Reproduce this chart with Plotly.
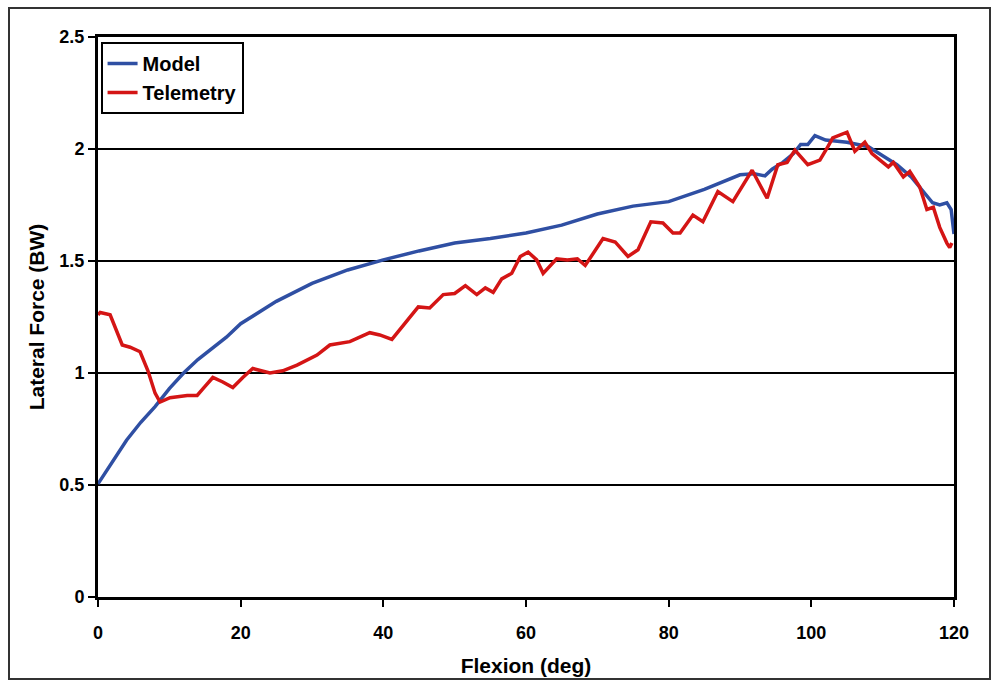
import plotly.graph_objects as go

model_x = [0, 2, 4, 6, 8, 10, 12, 14, 16, 18, 20, 25, 30, 35, 40, 45, 50, 55, 60, 65, 70, 75, 80, 85,
           90, 92, 93.5, 94.5, 96, 97.5, 98.5, 99.5, 100.5, 102, 105, 108, 110, 112, 114, 116, 117, 118,
           119, 119.6, 120]
model_y = [0.505, 0.6, 0.70, 0.78, 0.85, 0.93, 1.0, 1.06, 1.11, 1.16, 1.22, 1.32, 1.40, 1.46, 1.505,
           1.545, 1.58, 1.60, 1.625, 1.66, 1.71, 1.745, 1.765, 1.82, 1.885, 1.89, 1.88, 1.91, 1.94, 1.98,
           2.02, 2.02, 2.06, 2.04, 2.03, 2.01, 1.97, 1.93, 1.875, 1.80, 1.76, 1.75, 1.76, 1.73, 1.62]

tele_x = [0, 0.3, 1.7, 2.4, 3.4, 4.5, 5.9, 7.0, 8.0, 8.7, 10.1, 12.5, 13.9, 15.0, 16.1, 17.5, 18.9,
          20.3, 21.7, 24.1, 25.9, 27.9, 30.7, 32.5, 33.5, 35.3, 38.1, 39.5, 41.2, 42.6, 44.9, 46.5,
          48.4, 50.0, 51.5, 53.1, 54.3, 55.4, 56.6, 58.0, 59.2, 60.3, 61.5, 62.4, 64.3, 65.8, 67.2,
          68.3, 69.4, 70.8, 72.5, 74.3, 75.7, 77.5, 79.2, 80.6, 81.6, 83.4, 84.8, 86.9, 89.0, 91.7,
          93.8, 95.3, 96.6, 97.7, 99.5, 101.2, 102.3, 103.0, 105.0, 106.1, 107.5, 108.5, 110.8, 111.5,
          112.9, 113.8, 115.2, 116.2, 117.1, 118.0, 119.0, 119.4, 119.7]
tele_y = [1.26, 1.27, 1.26, 1.20, 1.125, 1.115, 1.095, 1.01, 0.91, 0.87, 0.89, 0.90, 0.90, 0.94, 0.98,
          0.96, 0.935, 0.98, 1.02, 1.0, 1.01, 1.035, 1.08, 1.125, 1.13, 1.14, 1.18, 1.17, 1.15, 1.205,
          1.295, 1.29, 1.35, 1.355, 1.39, 1.35, 1.38, 1.36, 1.42, 1.445, 1.52, 1.54, 1.505, 1.445, 1.51,
          1.505, 1.51, 1.48, 1.535, 1.60, 1.585, 1.52, 1.55, 1.675, 1.67, 1.625, 1.625, 1.705, 1.675,
          1.81, 1.765, 1.905, 1.78, 1.93, 1.94, 1.995, 1.93, 1.95, 2.01, 2.05, 2.075, 1.99, 2.03, 1.98,
          1.92, 1.94, 1.875, 1.90, 1.83, 1.73, 1.74, 1.65, 1.58, 1.56, 1.58]

x_ticks = [0, 20, 40, 60, 80, 100, 120]
y_ticks = [0, 0.5, 1, 1.5, 2, 2.5]

FONT = "Liberation Sans"

fig = go.Figure()
fig.add_trace(go.Scatter(x=model_x, y=model_y, mode="lines", name="<b>Model</b>",
                         line=dict(color="#2f4fa3", width=3.5)))
fig.add_trace(go.Scatter(x=tele_x, y=tele_y, mode="lines", name="<b>Telemetry</b>",
                         line=dict(color="#d41515", width=3.5)))

fig.update_layout(
    width=997, height=681,
    margin=dict(l=98, r=43, t=37, b=84),
    paper_bgcolor="white", plot_bgcolor="white",
    font=dict(family=FONT, color="black", size=18),
    showlegend=True,
    legend=dict(x=0.003, y=0.991, xanchor="left", yanchor="top",
                bordercolor="black", borderwidth=2, bgcolor="white",
                font=dict(family=FONT, size=20, color="black"),
                tracegroupgap=0, itemwidth=30),
    xaxis=dict(range=[0, 120], tickvals=x_ticks, showgrid=False, zeroline=False,
               showline=True, linecolor="black", linewidth=3, mirror=True,
               ticks="outside", ticklen=7, tickwidth=2, tickcolor="black",
               ticklabelstandoff=10, automargin=False,
               tickfont=dict(family=FONT, size=18, color="black", weight="bold"),
               title=dict(text="<b>Flexion (deg)</b>", font=dict(family=FONT, size=21), standoff=17)),
    yaxis=dict(range=[0, 2.5], tickvals=y_ticks, showgrid=True, gridcolor="black", gridwidth=2,
               zeroline=False, showline=True, linecolor="black", linewidth=3, mirror=True,
               ticks="outside", ticklen=7, tickwidth=2, tickcolor="black", automargin=False,
               tickfont=dict(family=FONT, size=18, color="black", weight="bold"),
               title=dict(text="<b>Lateral Force (BW)</b>", font=dict(family=FONT, size=21), standoff=10)),
)

# outer frame around the whole chart
fig.add_shape(type="rect", xref="paper", yref="paper",
              x0=(9 - 98) / 856, x1=(990 - 98) / 856,
              y0=(597 - 679) / 560, y1=(597 - 8) / 560,
              line=dict(color="#333333", width=2), fillcolor="rgba(0,0,0,0)", layer="below")

fig.write_html("out.html")
